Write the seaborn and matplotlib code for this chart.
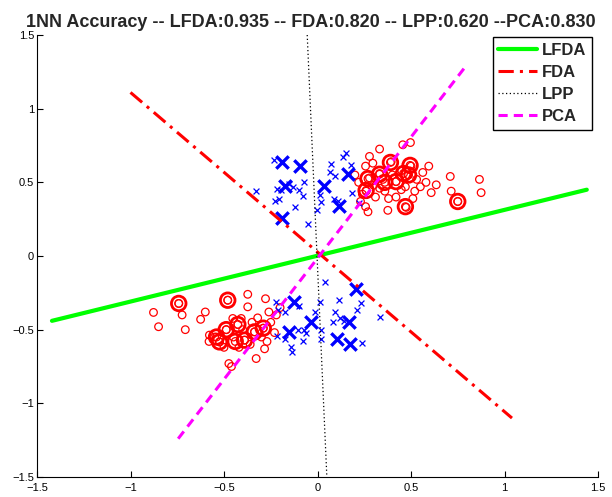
import matplotlib
matplotlib.use("Agg")
import matplotlib.pyplot as plt
import seaborn as sns
import pandas as pd
import numpy as np

# ---------------- data ----------------
red_x = [0.456, 0.497, 0.332, 0.278, 0.296, 0.257, 0.595, 0.563, 0.635, 0.71, 0.866, 0.715, 0.608, 0.875,
         0.51, 0.38, 0.376, 0.448, 0.332, 0.257, 0.27, 0.394, 0.50, 0.483, 0.42, 0.332, 0.278, 0.26, 0.474,
         0.75, 0.35, 0.40, 0.45, 0.30, 0.36, 0.53, 0.55, 0.47, 0.22, 0.24, 0.20, 0.31, 0.42, 0.52, 0.58, 0.23,
         -0.877, -0.85, -0.724, -0.707, -0.625, -0.60, -0.373, -0.373, -0.278, -0.578, -0.453, -0.408, -0.328,
         -0.474, -0.283, -0.742, -0.48, -0.524, -0.488, -0.426, -0.39, -0.337, -0.29, -0.55, -0.45, -0.42,
         -0.36, -0.30, -0.25, -0.22, -0.20, -0.26, -0.35, -0.50, -0.40, -0.32, -0.23, -0.27, -0.46, -0.58]
red_y = [0.755, 0.77, 0.726, 0.676, 0.63, 0.61, 0.61, 0.567, 0.483, 0.54, 0.52, 0.44, 0.43, 0.43,
         0.39, 0.39, 0.31, 0.45, 0.46, 0.335, 0.30, 0.64, 0.61, 0.55, 0.505, 0.56, 0.53, 0.44, 0.33,
         0.37, 0.52, 0.55, 0.58, 0.48, 0.44, 0.52, 0.47, 0.47, 0.50, 0.42, 0.55, 0.40, 0.40, 0.44, 0.50, 0.37,
         -0.383, -0.48, -0.40, -0.50, -0.43, -0.38, -0.26, -0.345, -0.29, -0.537, -0.424, -0.424, -0.696,
         -0.73, -0.63, -0.322, -0.30, -0.583, -0.50, -0.465, -0.571, -0.515, -0.49, -0.55, -0.55, -0.62,
         -0.60, -0.55, -0.45, -0.40, -0.35, -0.38, -0.45, -0.62, -0.50, -0.42, -0.52, -0.58, -0.75, -0.58]

red_big_x = [0.39, 0.495, 0.487, 0.42, 0.332, 0.27, 0.26, 0.47, 0.75, 0.36, 0.46,
             -0.742, -0.48, -0.524, -0.488, -0.426, -0.39, -0.337, -0.29, -0.44, -0.54]
red_big_y = [0.635, 0.615, 0.55, 0.505, 0.555, 0.525, 0.445, 0.335, 0.37, 0.50, 0.56,
             -0.322, -0.30, -0.583, -0.50, -0.465, -0.571, -0.515, -0.49, -0.58, -0.55]

blue_x = [-0.23, -0.33, -0.218, -0.225, -0.207, -0.15, -0.132, -0.10, -0.07, -0.079, -0.118, -0.052,
          0.07, 0.068, 0.092, 0.016, 0.02, -0.002, 0.087, 0.112, 0.139, 0.153, 0.18, 0.185, 0.22, -0.194,
          0.038, 0.114, 0.016, 0.234, -0.016, 0.091, 0.082, 0.118, 0.21, 0.332, -0.10, -0.221, -0.176,
          -0.212, -0.105, -0.07, -0.061, -0.218, -0.176, -0.078, 0.02, 0.02, -0.14, -0.135, 0.239, 0.14]
blue_y = [0.65, 0.44, 0.456, 0.376, 0.39, 0.49, 0.47, 0.45, 0.50, 0.41, 0.335, 0.218,
          0.626, 0.567, 0.544, 0.415, 0.367, 0.31, 0.385, 0.374, 0.67, 0.70, 0.62, 0.43, 0.36, 0.45,
          -0.175, -0.30, -0.31, -0.322, -0.379, -0.379, -0.447, -0.424, -0.367, -0.413, -0.34, -0.31, -0.379,
          -0.367, -0.503, -0.503, -0.526, -0.544, -0.56, -0.576, -0.503, -0.56, -0.617, -0.651, -0.59, -0.44]

blue_big_x = [-0.19, -0.094, -0.176, 0.037, 0.162, 0.116, -0.189,
              0.207, -0.123, -0.034, -0.153, 0.103, 0.175, 0.171]
blue_big_y = [0.637, 0.61, 0.475, 0.475, 0.555, 0.337, 0.256,
              -0.226, -0.31, -0.447, -0.515, -0.56, -0.594, -0.447]

methods = ["LFDA", "FDA", "LPP", "PCA"]
line_x0 = [-1.42, -1.0, -0.055, -0.745]
line_y0 = [-0.44, 1.11, 1.5, -1.24]
line_x1 = [1.44, 1.04, 0.05, 0.80]
line_y1 = [0.45, -1.10, -1.5, 1.30]

accuracies = {"LFDA": "0.935", "FDA": "0.820", "LPP": "0.620", "PCA": "0.830"}
xticks = [-1.5, -1, -0.5, 0, 0.5, 1, 1.5]
yticks = [-1.5, -1, -0.5, 0, 0.5, 1, 1.5]
tick_labels = ["\u22121.5", "\u22121", "\u22120.5", "0", "0.5", "1", "1.5"]

# ---------------- plot ----------------
sns.set_style("white")
plt.rcParams["font.family"] = ["Liberation Sans", "DejaVu Sans"]

fig = plt.figure(figsize=(6.12, 4.97), dpi=100)
ax = fig.add_axes([37 / 612, 20 / 497, (598 - 37) / 612, (477 - 35) / 497])

red = (1, 0, 0)
blue = (0, 0, 1)

# every sample gets a small marker; highlighted samples also get a large one
all_red_x = red_x + red_big_x
all_red_y = red_y + red_big_y
all_blue_x = blue_x + blue_big_x
all_blue_y = blue_y + blue_big_y

sns.scatterplot(x=all_red_x, y=all_red_y, ax=ax, marker="o", s=30, facecolor="none",
                edgecolor=red, linewidth=0.9, zorder=3)
sns.scatterplot(x=red_big_x, y=red_big_y, ax=ax, marker="o", s=110, facecolor="none",
                edgecolor=red, linewidth=2.0, zorder=3)
sns.scatterplot(x=all_blue_x, y=all_blue_y, ax=ax, marker="x", s=18, color=blue,
                linewidth=0.9, zorder=3)
sns.scatterplot(x=blue_big_x, y=blue_big_y, ax=ax, marker="x", s=80, color=blue,
                linewidth=2.4, zorder=3)

styles = {
    "LFDA": dict(color=(0, 1, 0), linestyle="-", linewidth=3.0),
    "FDA": dict(color=(1, 0, 0), linestyle=(0, (5, 2, 1, 2)), linewidth=2.2),
    "LPP": dict(color="black", linestyle=(0, (1, 2)), linewidth=0.9),
    "PCA": dict(color=(1, 0, 1), linestyle=(0, (3, 2)), linewidth=2.2),
}
for i, m in enumerate(methods):
    df = pd.DataFrame({"x": [line_x0[i], line_x1[i]], "y": [line_y0[i], line_y1[i]]})
    sns.lineplot(data=df, x="x", y="y", ax=ax, sort=False, estimator=None,
                 label=m, zorder=4, clip_on=False, **styles[m])

ax.set_xlim(-1.5, 1.5)
ax.set_ylim(-1.5, 1.5)
ax.set_xticks(xticks)
ax.set_yticks(yticks)
ax.set_xticklabels(tick_labels)
ax.set_yticklabels(tick_labels)
ax.set_xlabel("")
ax.set_ylabel("")
ax.tick_params(direction="in", length=4, width=0.8, labelsize=8, pad=2,
               bottom=True, left=True, colors="black")
ax.tick_params(axis="x", pad=4)
for side in ["top", "right"]:
    ax.spines[side].set_visible(False)
for side in ["left", "bottom"]:
    ax.spines[side].set_color("black")
    ax.spines[side].set_linewidth(0.8)

title = ("1NN Accuracy -- LFDA:%s -- FDA:%s -- LPP:%s --PCA:%s"
         % (accuracies["LFDA"], accuracies["FDA"], accuracies["LPP"], accuracies["PCA"]))
ax.set_title(title, fontsize=13, fontweight="bold", pad=6, x=(311 - 37) / (598 - 37))

leg = ax.legend(loc="upper right", bbox_to_anchor=((592 - 37) / (598 - 37), (477 - 37) / (477 - 35)),
                frameon=True, fancybox=False, framealpha=1, edgecolor="black",
                prop={"weight": "bold", "size": 12}, handlelength=2.3, handletextpad=0.3,
                borderpad=0.35, labelspacing=0.42, borderaxespad=0)
leg.get_frame().set_linewidth(1.0)

fig.savefig("out.png", dpi=100)
